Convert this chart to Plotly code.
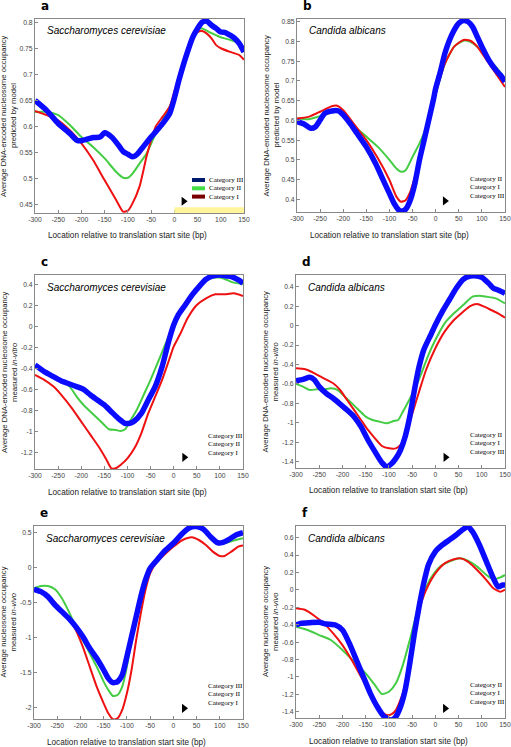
import plotly.graph_objects as go

W, H = 511, 747

X_TICKS = [-300, -250, -200, -150, -100, -50, 0, 50, 100, 150]
X_TICK_TEXT = ["-300", "-250", "-200", "-150", "-100", "-50", "0", "50", "100", "150"]

# ---------------- panel a: S. cerevisiae, predicted by model ----------------
A_CAT1 = [(-300, 0.630), (-275, 0.622), (-250, 0.612), (-225, 0.593), (-200, 0.568), (-175, 0.536),
          (-150, 0.497), (-125, 0.459), (-110, 0.437), (-100, 0.439), (-90, 0.453), (-75, 0.485),
          (-60, 0.542), (-50, 0.574), (-40, 0.600), (-25, 0.619), (-10, 0.638), (0, 0.667), (10, 0.695),
          (25, 0.740), (40, 0.772), (50, 0.781), (60, 0.783), (70, 0.778), (80, 0.769), (90, 0.756),
          (100, 0.750), (120, 0.743), (140, 0.737), (150, 0.728)]
A_CAT2 = [(-300, 0.628), (-275, 0.628), (-250, 0.622), (-225, 0.603), (-200, 0.580), (-175, 0.561),
          (-150, 0.539), (-125, 0.513), (-110, 0.502), (-100, 0.502), (-90, 0.510), (-75, 0.529),
          (-60, 0.548), (-50, 0.567), (-40, 0.587), (-25, 0.612), (-10, 0.638), (0, 0.663), (10, 0.695),
          (25, 0.740), (40, 0.772), (50, 0.785), (60, 0.788), (75, 0.781), (90, 0.775), (100, 0.771),
          (120, 0.766), (140, 0.759), (150, 0.750)]
A_CAT3 = [(-300, 0.650), (-275, 0.631), (-250, 0.606), (-225, 0.587), (-210, 0.574), (-200, 0.573),
          (-175, 0.579), (-160, 0.580), (-150, 0.588), (-135, 0.580), (-120, 0.564), (-110, 0.552),
          (-100, 0.547), (-90, 0.542), (-80, 0.547), (-70, 0.558), (-50, 0.580), (-40, 0.590),
          (-25, 0.606), (-10, 0.625), (0, 0.654), (10, 0.689), (25, 0.734), (40, 0.772), (50, 0.788),
          (60, 0.800), (70, 0.802), (80, 0.794), (90, 0.788), (100, 0.781), (110, 0.780), (120, 0.775),
          (130, 0.769), (140, 0.759), (150, 0.743)]

# ---------------- panel b: C. albicans, predicted by model ----------------
B_CAT1 = [(-300, 0.605), (-275, 0.609), (-250, 0.622), (-225, 0.636), (-215, 0.638), (-200, 0.626),
          (-175, 0.588), (-150, 0.550), (-125, 0.504), (-100, 0.449), (-85, 0.407), (-75, 0.394),
          (-65, 0.398), (-55, 0.419), (-45, 0.457), (-30, 0.525), (-15, 0.592), (0, 0.668), (20, 0.744),
          (40, 0.787), (60, 0.804), (75, 0.802), (90, 0.787), (110, 0.753), (130, 0.719), (150, 0.685)]
B_CAT2 = [(-300, 0.605), (-275, 0.603), (-250, 0.611), (-225, 0.620), (-210, 0.622), (-200, 0.614),
          (-175, 0.584), (-150, 0.559), (-125, 0.533), (-100, 0.500), (-85, 0.478), (-75, 0.470),
          (-65, 0.474), (-50, 0.508), (-35, 0.542), (-20, 0.584), (0, 0.668), (20, 0.744), (40, 0.787),
          (60, 0.802), (75, 0.799), (90, 0.787), (110, 0.761), (130, 0.736), (150, 0.706)]
B_CAT3 = [(-300, 0.597), (-285, 0.591), (-270, 0.580), (-260, 0.584), (-250, 0.601), (-240, 0.618),
          (-225, 0.624), (-210, 0.624), (-200, 0.614), (-185, 0.592), (-170, 0.567), (-150, 0.533),
          (-130, 0.491), (-110, 0.440), (-100, 0.415), (-90, 0.390), (-80, 0.373), (-75, 0.369),
          (-65, 0.375), (-55, 0.398), (-45, 0.440), (-35, 0.500), (-25, 0.550), (-15, 0.601),
          (-5, 0.652), (0, 0.681), (10, 0.723), (20, 0.770), (30, 0.804), (40, 0.829), (50, 0.846),
          (60, 0.853), (70, 0.850), (80, 0.837), (90, 0.812), (100, 0.787), (115, 0.753), (130, 0.728),
          (140, 0.715), (150, 0.698)]

# ---------------- panel c: S. cerevisiae, in vitro ----------------
C_CAT1 = [(-300, -0.459), (-280, -0.506), (-260, -0.570), (-240, -0.665), (-220, -0.777), (-200, -0.904),
          (-180, -1.031), (-160, -1.158), (-145, -1.270), (-135, -1.349), (-125, -1.349), (-115, -1.318),
          (-100, -1.254), (-85, -1.158), (-70, -1.015), (-55, -0.825), (-40, -0.666), (-25, -0.506),
          (-10, -0.316), (0, -0.188), (15, -0.061), (30, 0.082), (50, 0.209), (70, 0.273), (90, 0.311),
          (110, 0.311), (130, 0.320), (150, 0.295)]
C_CAT2 = [(-300, -0.370), (-280, -0.432), (-260, -0.480), (-240, -0.527), (-225, -0.570), (-210, -0.665),
          (-195, -0.745), (-180, -0.809), (-165, -0.872), (-150, -0.936), (-140, -0.977), (-125, -0.984),
          (-115, -0.993), (-105, -0.977), (-95, -0.904), (-80, -0.793), (-65, -0.650), (-50, -0.506),
          (-35, -0.347), (-20, -0.188), (0, 0.018), (20, 0.193), (40, 0.320), (60, 0.416), (80, 0.464),
          (100, 0.470), (115, 0.448), (130, 0.422), (150, 0.410)]
C_CAT3 = [(-300, -0.363), (-280, -0.427), (-260, -0.475), (-240, -0.522), (-225, -0.545), (-210, -0.570),
          (-195, -0.596), (-180, -0.650), (-165, -0.697), (-150, -0.745), (-135, -0.809), (-120, -0.872),
          (-105, -0.920), (-95, -0.920), (-85, -0.898), (-70, -0.825), (-55, -0.697), (-40, -0.570),
          (-25, -0.379), (-10, -0.125), (0, 0.018), (10, 0.114), (25, 0.209), (40, 0.305), (55, 0.384),
          (70, 0.454), (85, 0.486), (100, 0.495), (115, 0.486), (125, 0.480), (140, 0.448), (150, 0.416)]

# ---------------- panel d: C. albicans, in vitro ----------------
D_CAT1 = [(-300, -0.440), (-280, -0.450), (-260, -0.491), (-240, -0.543), (-220, -0.594), (-205, -0.663),
          (-190, -0.766), (-175, -0.868), (-160, -0.971), (-145, -1.074), (-130, -1.160), (-115, -1.239),
          (-100, -1.263), (-85, -1.263), (-75, -1.228), (-65, -1.143), (-55, -0.988), (-45, -0.834),
          (-35, -0.680), (-20, -0.457), (0, -0.234), (20, -0.063), (40, 0.057), (60, 0.143), (75, 0.201),
          (90, 0.222), (105, 0.194), (120, 0.160), (135, 0.126), (150, 0.081)]
D_CAT2 = [(-300, -0.601), (-285, -0.628), (-270, -0.663), (-255, -0.656), (-240, -0.656), (-225, -0.646),
          (-210, -0.663), (-195, -0.731), (-180, -0.800), (-165, -0.868), (-150, -0.937), (-135, -0.971),
          (-120, -0.988), (-105, -1.006), (-90, -0.982), (-80, -0.971), (-70, -0.886), (-60, -0.800),
          (-45, -0.663), (-30, -0.491), (-15, -0.303), (0, -0.149), (20, 0.023), (40, 0.126), (60, 0.211),
          (80, 0.297), (95, 0.307), (110, 0.297), (130, 0.280), (150, 0.229)]
D_CAT3 = [(-300, -0.567), (-285, -0.553), (-270, -0.532), (-260, -0.560), (-250, -0.628), (-235, -0.697),
          (-220, -0.748), (-205, -0.807), (-190, -0.868), (-175, -0.937), (-160, -1.040), (-145, -1.177),
          (-130, -1.297), (-115, -1.410), (-105, -1.451), (-95, -1.424), (-85, -1.366), (-75, -1.280),
          (-65, -1.143), (-55, -0.937), (-45, -0.663), (-35, -0.423), (-25, -0.251), (-10, -0.097),
          (0, 0.006), (15, 0.143), (30, 0.263), (45, 0.383), (60, 0.475), (75, 0.510), (90, 0.510),
          (100, 0.496), (115, 0.434), (125, 0.383), (135, 0.366), (150, 0.331)]

# ---------------- panel e: S. cerevisiae, in vivo ----------------
E_CAT1 = [(-300, -0.314), (-280, -0.371), (-260, -0.467), (-240, -0.610), (-225, -0.729), (-210, -0.895),
          (-195, -1.133), (-180, -1.419), (-165, -1.705), (-150, -1.943), (-140, -2.086), (-130, -2.171),
          (-120, -2.157), (-110, -2.038), (-100, -1.800), (-90, -1.467), (-80, -1.038), (-70, -0.657),
          (-60, -0.324), (-50, -0.086), (-35, 0.081), (-20, 0.176), (0, 0.295), (20, 0.390), (40, 0.429),
          (55, 0.390), (70, 0.319), (85, 0.224), (100, 0.162), (110, 0.162), (125, 0.224), (140, 0.295),
          (150, 0.310)]
E_CAT2 = [(-300, -0.300), (-285, -0.267), (-270, -0.267), (-255, -0.314), (-240, -0.443), (-225, -0.633),
          (-210, -0.848), (-195, -1.038), (-180, -1.229), (-165, -1.419), (-150, -1.633), (-140, -1.752),
          (-130, -1.838), (-120, -1.824), (-110, -1.705), (-100, -1.419), (-90, -1.038), (-80, -0.705),
          (-70, -0.419), (-60, -0.181), (-50, -0.014), (-35, 0.105), (-20, 0.200), (0, 0.343), (20, 0.486),
          (40, 0.567), (55, 0.557), (70, 0.510), (85, 0.414), (100, 0.352), (115, 0.352), (130, 0.381),
          (150, 0.414)]
E_CAT3 = [(-300, -0.314), (-285, -0.348), (-270, -0.419), (-255, -0.538), (-240, -0.633), (-225, -0.729),
          (-210, -0.848), (-195, -0.990), (-180, -1.157), (-165, -1.300), (-150, -1.467), (-140, -1.586),
          (-130, -1.648), (-120, -1.633), (-110, -1.538), (-100, -1.276), (-90, -0.990), (-80, -0.705),
          (-70, -0.419), (-60, -0.181), (-50, -0.014), (-35, 0.105), (-20, 0.224), (0, 0.343), (20, 0.486),
          (35, 0.567), (50, 0.581), (65, 0.543), (80, 0.438), (95, 0.352), (105, 0.352), (120, 0.400),
          (135, 0.462), (150, 0.495)]

# ---------------- panel f: C. albicans, in vivo ----------------
F_CAT1 = [(-300, -0.212), (-280, -0.231), (-260, -0.300), (-240, -0.385), (-220, -0.500), (-200, -0.634),
          (-180, -0.806), (-160, -0.998), (-140, -1.189), (-120, -1.381), (-105, -1.438), (-95, -1.431),
          (-85, -1.381), (-70, -1.189), (-55, -0.806), (-45, -0.461), (-35, -0.231), (-20, -0.002),
          (0, 0.190), (20, 0.305), (40, 0.351), (55, 0.362), (70, 0.324), (90, 0.228), (110, 0.113),
          (125, 0.018), (140, -0.021), (150, 0.002)]
F_CAT2 = [(-300, -0.423), (-275, -0.461), (-250, -0.519), (-225, -0.576), (-200, -0.691), (-175, -0.825),
          (-150, -0.959), (-130, -1.093), (-115, -1.197), (-100, -1.170), (-85, -1.074), (-70, -0.864),
          (-55, -0.576), (-40, -0.270), (-25, -0.040), (-10, 0.133), (10, 0.267), (30, 0.324), (50, 0.362),
          (70, 0.336), (90, 0.267), (110, 0.171), (125, 0.121), (140, 0.144), (150, 0.171)]
F_CAT3 = [(-300, -0.404), (-290, -0.385), (-270, -0.377), (-250, -0.373), (-235, -0.392), (-215, -0.404),
          (-200, -0.461), (-185, -0.615), (-170, -0.806), (-155, -0.998), (-140, -1.189), (-125, -1.343),
          (-110, -1.457), (-95, -1.496), (-85, -1.457), (-75, -1.343), (-65, -1.151), (-55, -0.844),
          (-45, -0.500), (-35, -0.193), (-25, 0.075), (-15, 0.286), (0, 0.439), (15, 0.516), (30, 0.573),
          (45, 0.631), (60, 0.696), (70, 0.726), (80, 0.669), (95, 0.516), (110, 0.324), (125, 0.133),
          (135, 0.037), (145, 0.056), (150, 0.056)]

# y ticks
A_YT = [0.45, 0.5, 0.55, 0.6, 0.65, 0.7, 0.75, 0.8]
A_YL = ["0.45", "0.5", "0.55", "0.6", "0.65", "0.7", "0.75", "0.8"]
B_YT = [0.4, 0.45, 0.5, 0.55, 0.6, 0.65, 0.7, 0.75, 0.8, 0.85]
B_YL = ["0.4", "0.45", "0.5", "0.55", "0.6", "0.65", "0.7", "0.75", "0.8", "0.85"]
C_YT = [-1.2, -1.0, -0.8, -0.6, -0.4, -0.2, 0, 0.2, 0.4]
C_YL = ["-1.2", "-1", "-0.8", "-0.6", "-0.4", "-0.2", "0", "0.2", "0.4"]
D_YT = [-1.4, -1.2, -1.0, -0.8, -0.6, -0.4, -0.2, 0, 0.2, 0.4]
D_YL = ["-1.4", "-1.2", "-1", "-0.8", "-0.6", "-0.4", "-0.2", "0", "0.2", "0.4"]
E_YT = [-2, -1.5, -1, -0.5, 0, 0.5]
E_YL = ["-2", "-1.5", "-1", "-0.5", "0", "0.5"]
F_YT = [-1.4, -1.2, -1.0, -0.8, -0.6, -0.4, -0.2, 0, 0.2, 0.4, 0.6]
F_YL = ["-1.4", "-1.2", "-1", "-0.8", "-0.6", "-0.4", "-0.2", "0", "0.2", "0.4", "0.6"]

COL = {"Category I": "#ee1111", "Category II": "#44cc44", "Category III": "#0b0bff"}
SWATCH = {"Category I": "#7a0000", "Category II": "#44dd44", "Category III": "#001a70"}
WID = {"Category I": 2, "Category II": 2, "Category III": 5.5}

TITLE_X = "Location relative to translation start site (bp)"

PANELS = [
    ("a", "Saccharomyces cerevisiae", ("Average DNA-encoded nucleosome occupancy", "predicted by model"),
     [A_CAT2, A_CAT1, A_CAT3], (0.4345, 0.806), A_YT, A_YL, ["Category III", "Category II", "Category I"],
     (20, 0.457), (35, 19, 244, 213)),
    ("b", "Candida albicans", ("Average DNA-encoded nucleosome occupancy", "predicted by model"),
     [B_CAT2, B_CAT1, B_CAT3], (0.368, 0.857), B_YT, B_YL, ["Category II", "Category I", "Category III"],
     (20, 0.396), (297, 19, 505, 212)),
    ("c", "Saccharomyces cerevisiae", ("Average DNA-encoded nucleosome occupancy", "measured <i>in-vitro</i>"),
     [C_CAT2, C_CAT1, C_CAT3], (-1.356, 0.495), C_YT, C_YL, ["Category III", "Category II", "Category I"],
     (23, -1.244), (35, 275, 243, 469)),
    ("d", "Candida albicans", ("Average DNA-encoded nucleosome occupancy", "measured <i>in-vitro</i>"),
     [D_CAT2, D_CAT1, D_CAT3], (-1.465, 0.52), D_YT, D_YL, ["Category II", "Category I", "Category III"],
     (22, -1.355), (296, 275, 505, 468)),
    ("e", "Saccharomyces cerevisiae", ("Average nucleosome occupancy", "measured <i>in-vivo</i>"),
     [E_CAT2, E_CAT1, E_CAT3], (-2.167, 0.59), E_YT, E_YL, ["Category III", "Category II", "Category I"],
     (23, -2.014), (34, 526, 243, 719)),
    ("f", "Candida albicans", ("Average nucleosome occupancy", "measured <i>in-vivo</i>"),
     [F_CAT2, F_CAT1, F_CAT3], (-1.472, 0.734), F_YT, F_YL, ["Category II", "Category I", "Category III"],
     (21, -1.362), (296, 526, 505, 718)),
]
SERIES_NAMES = ["Category II", "Category I", "Category III"]


def px(x):
    return x / W


def py(y):
    return 1 - y / H


fig = go.Figure()
annotations = []
shapes = []
FONT = "Liberation Sans"
GRAY = "#444444"

for i, (letter, species, ytitle, series, yr, ytv, ytl, leg, arrow, box) in enumerate(PANELS):
    k = "" if i == 0 else str(i + 1)
    xa, ya = "x" + k, "y" + k
    l, t, r, b = box
    for name, data in zip(SERIES_NAMES, series):
        fig.add_trace(go.Scatter(
            x=[p[0] for p in data], y=[p[1] for p in data], mode="lines",
            line=dict(color=COL[name], width=WID[name], shape="spline", smoothing=0.6),
            xaxis=xa, yaxis=ya, showlegend=False, hoverinfo="skip"))
    fig.add_trace(go.Scatter(x=[arrow[0]], y=[arrow[1]], mode="markers",
                             marker=dict(symbol="triangle-right", size=8, color="black"),
                             xaxis=xa, yaxis=ya, showlegend=False, hoverinfo="skip"))
    axcommon = dict(showline=True, linecolor="#888888", linewidth=1, mirror=True, showgrid=False,
                    zeroline=False, ticks="inside", ticklen=3, tickcolor="#888888", automargin=False,
                    tickfont=dict(family=FONT, size=6.8, color=GRAY))
    fig.layout["xaxis" + k] = dict(domain=[px(l), px(r)], range=[-300, 150], anchor=ya,
                                   tickvals=X_TICKS, ticktext=X_TICK_TEXT, **axcommon)
    fig.layout["yaxis" + k] = dict(domain=[py(b), py(t)], range=list(yr), anchor=xa,
                                   tickvals=ytv, ticktext=ytl, **axcommon)
    cx = (l + r) / 2
    annotations.append(dict(text=TITLE_X, x=px(cx - 12), y=py(b + 23), xref="paper", yref="paper",
                            xanchor="center", yanchor="middle", showarrow=False,
                            font=dict(family=FONT, size=8.2, color="#222222")))
    for j, line in enumerate(ytitle):
        annotations.append(dict(text=line, x=px(l - 31 + 10 * j), y=py((t + b) / 2), xref="paper",
                                yref="paper", xanchor="center", yanchor="middle", showarrow=False,
                                textangle=-90, font=dict(family=FONT, size=7.7, color="#222222")))
    annotations.append(dict(text="<b>%s</b>" % letter, x=px(l + 4), y=py(t - 13), xref="paper",
                            yref="paper", xanchor="left", yanchor="middle", showarrow=False,
                            font=dict(family="DejaVu Sans", size=12, color="black")))
    annotations.append(dict(text="<i>%s</i>" % species, x=px(l + 10), y=py(t + 12), xref="paper",
                            yref="paper", xanchor="left", yanchor="middle", showarrow=False,
                            font=dict(family=FONT, size=10, color="black")))
    lx = r - 37
    ly0 = b - 33
    for j, name in enumerate(leg):
        annotations.append(dict(text=name, x=px(lx), y=py(ly0 + j * 8.3), xref="paper", yref="paper",
                                xanchor="left", yanchor="middle", showarrow=False,
                                font=dict(family="Liberation Serif", size=7, color="black")))
        if letter == "a":
            shapes.append(dict(type="line", xref="paper", yref="paper", x0=px(lx - 15), x1=px(lx - 2),
                               y0=py(ly0 + j * 8.3), y1=py(ly0 + j * 8.3),
                               line=dict(color=SWATCH[name], width=4)))

shapes.append(dict(type="rect", xref="x", yref="y", x0=0, x1=150, y0=0.4345, y1=0.4455,
                   fillcolor="#fff59a", line=dict(width=0), layer="above"))

fig.update_layout(width=W, height=H, margin=dict(l=0, r=0, t=0, b=0),
                  paper_bgcolor="white", plot_bgcolor="white",
                  annotations=annotations, shapes=shapes)
fig.write_html("out.html", config={"displayModeBar": False},
               post_script="document.body.style.margin='0px';document.body.style.overflow='hidden';")
